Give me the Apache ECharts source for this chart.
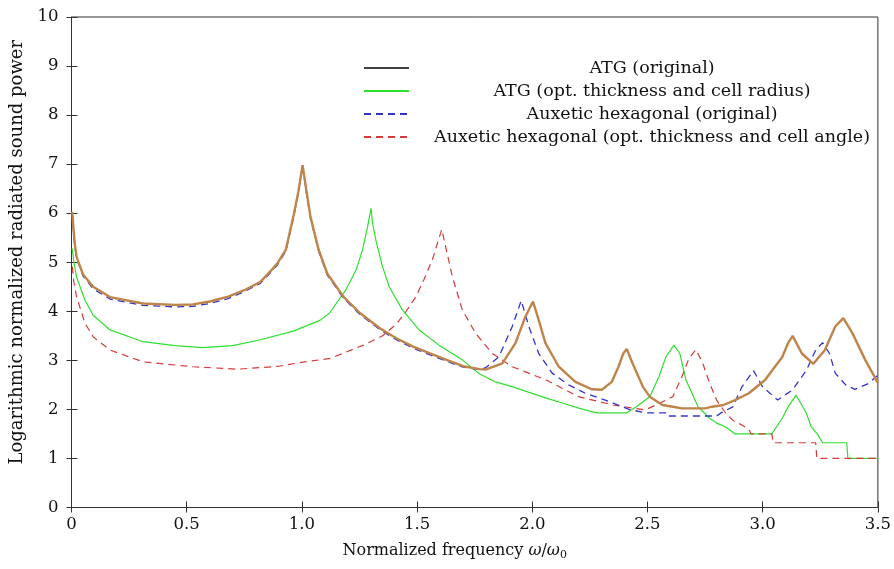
<!DOCTYPE html>
<html>
<head>
<meta charset="utf-8">
<script src="https://cdn.jsdelivr.net/npm/echarts@6/dist/echarts.min.js"></script>
<style>html,body{margin:0;padding:0;background:#fff}#c{width:894px;height:569px}</style>
</head>
<body>
<div id="c"></div>
<script>
// ---- data ----
var seriesNames = ['ATG (original)', 'ATG (opt. thickness and cell radius)', 'Auxetic hexagonal (original)', 'Auxetic hexagonal (opt. thickness and cell angle)'];
var xTickLabels = ['0', '0.5', '1.0', '1.5', '2.0', '2.5', '3.0', '3.5'];
var yTickLabels = ['0', '1', '2', '3', '4', '5', '6', '7', '8', '9', '10'];

var atgOrigX = [0.0035,0.008,0.014,0.022,0.05,0.094,0.167,0.31,0.45,0.527,0.6,0.68,0.75,0.82,0.87,0.894,0.93,0.966,0.985,1.003,1.02,1.037,1.073,1.11,1.18,1.253,1.34,1.41,1.483,1.556,1.628,1.70,1.772,1.797,1.87,1.927,1.97,2.003,2.028,2.057,2.115,2.187,2.259,2.302,2.345,2.374,2.395,2.41,2.435,2.48,2.51,2.565,2.61,2.65,2.75,2.78,2.83,2.88,2.94,3.01,3.085,3.11,3.13,3.17,3.22,3.27,3.315,3.35,3.39,3.445,3.50];
var atgOrigY = [6.03,5.72,5.39,5.11,4.75,4.50,4.29,4.16,4.13,4.14,4.20,4.30,4.43,4.60,4.85,4.98,5.25,6.0,6.45,6.98,6.45,5.93,5.25,4.77,4.30,3.96,3.65,3.45,3.28,3.14,3.01,2.88,2.82,2.81,2.94,3.35,3.89,4.20,3.82,3.35,2.87,2.56,2.41,2.40,2.56,2.87,3.14,3.23,2.94,2.46,2.26,2.09,2.055,2.02,2.02,2.055,2.09,2.19,2.33,2.60,3.07,3.35,3.50,3.14,2.93,3.21,3.69,3.86,3.55,3.01,2.54];

var atgOptX = [0.003,0.012,0.022,0.058,0.094,0.167,0.31,0.45,0.57,0.7,0.82,0.966,1.08,1.119,1.19,1.235,1.263,1.285,1.30,1.307,1.321,1.35,1.379,1.436,1.509,1.595,1.696,1.772,1.84,1.916,2.06,2.13,2.205,2.28,2.41,2.45,2.51,2.55,2.58,2.615,2.64,2.667,2.72,2.77,2.80,2.84,2.88,3.04,3.085,3.11,3.145,3.19,3.21,3.24,3.26,3.365,3.37,3.50];
var atgOptY = [5.28,4.95,4.70,4.23,3.92,3.62,3.38,3.30,3.26,3.30,3.42,3.60,3.82,3.96,4.43,4.84,5.25,5.72,6.10,5.79,5.45,4.91,4.50,4.03,3.62,3.31,3.01,2.72,2.56,2.46,2.23,2.13,2.02,1.93,1.93,2.05,2.26,2.67,3.07,3.31,3.14,2.60,2.05,1.82,1.72,1.64,1.50,1.50,1.82,2.05,2.29,1.92,1.65,1.48,1.32,1.32,1.0,1.0];

var auxOrigX = [0.0035,0.008,0.014,0.022,0.05,0.094,0.167,0.31,0.45,0.527,0.6,0.68,0.75,0.82,0.87,0.894,0.93,0.966,0.985,1.003,1.02,1.037,1.073,1.11,1.18,1.253,1.34,1.41,1.483,1.556,1.628,1.70,1.772,1.797,1.855,1.913,1.952,1.985,2.028,2.086,2.158,2.23,2.317,2.42,2.49,2.59,2.595,2.80,2.82,2.87,2.91,2.96,3.00,3.065,3.13,3.19,3.23,3.26,3.29,3.315,3.36,3.40,3.46,3.50];
var auxOrigY = [6.0,5.68,5.35,5.08,4.72,4.46,4.25,4.12,4.09,4.10,4.16,4.26,4.40,4.57,4.82,4.95,5.22,5.96,6.42,6.96,6.40,5.90,5.22,4.74,4.27,3.93,3.62,3.42,3.25,3.11,2.98,2.86,2.81,2.85,3.07,3.69,4.22,3.69,3.14,2.74,2.50,2.33,2.19,2.0,1.93,1.93,1.865,1.865,1.93,2.05,2.46,2.79,2.46,2.19,2.40,2.80,3.21,3.36,3.14,2.74,2.50,2.41,2.53,2.70];

var auxOptX = [0.0035,0.01,0.022,0.058,0.094,0.167,0.31,0.527,0.72,0.9,1.0,1.123,1.267,1.35,1.41,1.45,1.495,1.53,1.566,1.607,1.653,1.696,1.754,1.826,1.913,2.06,2.20,2.35,2.49,2.55,2.61,2.65,2.68,2.71,2.74,2.77,2.80,2.84,2.87,2.91,2.94,2.95,3.04,3.045,3.23,3.235,3.50];
var auxOptY = [4.91,4.60,4.30,3.76,3.48,3.21,2.97,2.87,2.82,2.88,2.96,3.04,3.31,3.50,3.74,3.98,4.30,4.65,5.05,5.67,4.71,4.03,3.55,3.14,2.87,2.60,2.26,2.09,1.99,2.12,2.26,2.67,3.04,3.22,2.94,2.53,2.19,1.92,1.78,1.68,1.59,1.50,1.50,1.32,1.32,1.0,1.0];

function pairs(xs, ys) { return xs.map(function (x, i) { return [x, ys[i]]; }); }

var FONT = 'DejaVu Serif';
var FS = 16.5;
var axisColor = '#333';
var textColor = '#111';

var chart = echarts.init(document.getElementById('c'), null, { renderer: 'canvas' });
var xMin = 0, xMax = 3.5, xInt = 0.5, yMin = 0, yMax = 10, yInt = 1;

chart.setOption({
  animation: false,
  backgroundColor: '#fff',
  grid: { left: 71.5, right: 15, top: 17, bottom: 61.5, show: true, borderColor: axisColor, borderWidth: 1, backgroundColor: 'transparent' },
  legend: {
    orient: 'vertical',
    left: 358,
    top: 54,
    itemWidth: 45,
    itemHeight: 14,
    itemGap: 5,
    itemStyle: { opacity: 0, borderWidth: 0 },
    formatter: function (n) { return '{t|' + n + '}'; },
    textStyle: { fontFamily: FONT, fontSize: 17.5, color: textColor,
      rich: { t: { width: 476, align: 'center', fontFamily: FONT, fontSize: 17.5, color: textColor } } },
    data: [
      { name: seriesNames[0], lineStyle: { color: '#000', width: 1.3, type: 'solid' } },
      { name: seriesNames[1] },
      { name: seriesNames[2] },
      { name: seriesNames[3] }
    ]
  },
  xAxis: [{
    type: 'value', min: xMin, max: xMax, interval: xInt, position: 'bottom',
    axisLine: { lineStyle: { color: axisColor, width: 1 } },
    axisTick: { inside: false, length: 5, lineStyle: { color: axisColor } },
    splitLine: { show: false },
    axisLabel: { fontFamily: FONT, fontSize: FS, color: textColor, margin: 9,
      formatter: function (v) { return xTickLabels[Math.round((v - xMin) / xInt)]; } },
    name: '{n|Normalized frequency }{i|ω}{n|/}{i|ω}{s|0}',
    nameLocation: 'middle', nameGap: 34,
    nameTextStyle: { padding: [0, 40, 0, 0], rich: {
      n: { fontFamily: FONT, fontSize: 16, color: textColor },
      i: { fontFamily: FONT, fontSize: 16, fontStyle: 'italic', color: textColor },
      s: { fontFamily: FONT, fontSize: 11, color: textColor, verticalAlign: 'bottom', padding: [8, 0, 0, 0] }
    } }
  }, {
    type: 'value', min: xMin, max: xMax, interval: xInt, position: 'bottom',
    axisLine: { show: false },
    axisTick: { inside: true, length: 6, lineStyle: { color: axisColor } },
    axisLabel: { show: false }, splitLine: { show: false }
  }],
  yAxis: [{
    type: 'value', min: yMin, max: yMax, interval: yInt, position: 'left',
    axisLine: { show: true, lineStyle: { color: axisColor, width: 1 } },
    axisTick: { show: true, inside: false, length: 5, lineStyle: { color: axisColor } },
    splitLine: { show: false },
    axisLabel: { fontFamily: FONT, fontSize: FS, color: textColor, margin: 13,
      formatter: function (v) { return yTickLabels[Math.round((v - yMin) / yInt)]; } },
    name: 'Logarithmic normalized radiated sound power',
    nameLocation: 'middle', nameGap: 42,
    nameTextStyle: { fontFamily: FONT, fontSize: 18, color: textColor, padding: [0, 0, 0, 20] }
  }, {
    type: 'value', min: yMin, max: yMax, interval: yInt, position: 'left',
    axisLine: { show: false },
    axisTick: { show: true, inside: true, length: 6, lineStyle: { color: axisColor } },
    axisLabel: { show: false }, splitLine: { show: false }
  }],
  series: [
    { name: seriesNames[0], type: 'line', symbol: 'none', z: 6, data: pairs(atgOrigX, atgOrigY),
      itemStyle: { color: '#bf844a' }, lineStyle: { color: '#bf844a', width: 2.4 } },
    { name: seriesNames[1], type: 'line', symbol: 'none', z: 3, data: pairs(atgOptX, atgOptY),
      itemStyle: { color: '#2ee02e' }, lineStyle: { color: '#2ee02e', width: 1.2 } },
    { name: seriesNames[2], type: 'line', symbol: 'none', z: 5, data: pairs(auxOrigX, auxOrigY),
      itemStyle: { color: '#3333cc' }, lineStyle: { color: '#3333cc', width: 1.3, type: [7, 5] } },
    { name: seriesNames[3], type: 'line', symbol: 'none', z: 4, data: pairs(auxOptX, auxOptY),
      itemStyle: { color: '#d63a3a' }, lineStyle: { color: '#d63a3a', width: 1.2, type: [7, 5] } }
  ]
});
</script>
</body>
</html>
